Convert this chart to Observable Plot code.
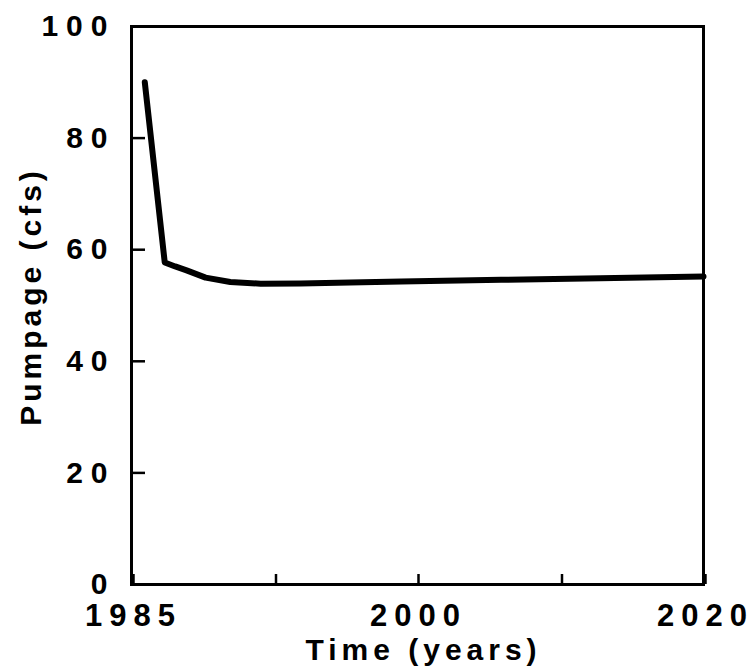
<!DOCTYPE html>
<html><head><meta charset="utf-8">
<script src="https://cdn.jsdelivr.net/npm/d3@7"></script>
<script src="https://cdn.jsdelivr.net/npm/@observablehq/plot@0.6"></script>
<style>
body{margin:0;background:#fff}
#chart svg{overflow:visible}
</style>
</head><body><div id="chart"></div>
<script>
const years = [1985.7, 1986.75, 1987.3, 1987.9, 1988.9, 1990.2, 1991.8, 1993.9, 1996.5, 1999.2, 2005.9, 2012.8, 2020];
const pumpage = [90.0, 57.7, 57.0, 56.3, 55.0, 54.2, 53.9, 53.95, 54.1, 54.3, 54.6, 54.9, 55.2];
const xTicks = [1985, 1992.5, 2000, 2010, 2020];
const xTickLabels = ["1985", "", "2000", "", "2020"];
const yTicks = [0, 20, 40, 60, 80, 100];
const xLabel = "Time (years)";
const yLabel = "Pumpage (cfs)";

const data = years.map((t, i) => ({t, q: pumpage[i]}));

const chart = Plot.plot({
  width: 755, height: 672,
  marginLeft: 131, marginRight: 52, marginTop: 26, marginBottom: 88,
  style: {fontFamily: "'Liberation Sans', Arial, sans-serif", fontWeight: "bold", fontSize: "30px", color: "#000", background: "#fff", overflow: "visible"},
  x: {type: "linear", domain: [1985, 2000, 2020], range: [131, 416, 703]},
  y: {domain: [0, 100]},
  marks: [
    Plot.axisY(yTicks, {tickSize: -14, tickPadding: 30, strokeWidth: 2.5, label: null, fontSize: 30}),
    Plot.axisX(xTicks, {tickSize: -10, tickPadding: 29, strokeWidth: 2.5, label: null, dx: 2, fontSize: 31, tickFormat: d => xTickLabels[xTicks.indexOf(d)]}),
    Plot.frame({strokeWidth: 3}),
    Plot.line(data, {x: "t", y: "q", strokeWidth: 6, stroke: "#000"}),
    Plot.text([xLabel], {text: d => d, frameAnchor: "bottom", textAnchor: "middle", lineAnchor: "middle", dx: 6, dy: 66, fontSize: 30, fontWeight: "bold"}),
    Plot.text([yLabel], {text: d => d, frameAnchor: "left", textAnchor: "middle", lineAnchor: "middle", dx: -100, dy: -9, rotate: -90, fontSize: 30, fontWeight: "bold"})
  ]
});
document.getElementById("chart").appendChild(chart);
d3.select(chart).selectAll("text").each(function() {
  const t = this.textContent;
  if (t === xLabel) this.style.letterSpacing = "5px";
  else if (t === yLabel) this.style.letterSpacing = "4px";
  else if (/^(1985|2000|2020)$/.test(t)) this.style.letterSpacing = "7px";
  else this.style.letterSpacing = "8px";
});
</script>
</body></html>
